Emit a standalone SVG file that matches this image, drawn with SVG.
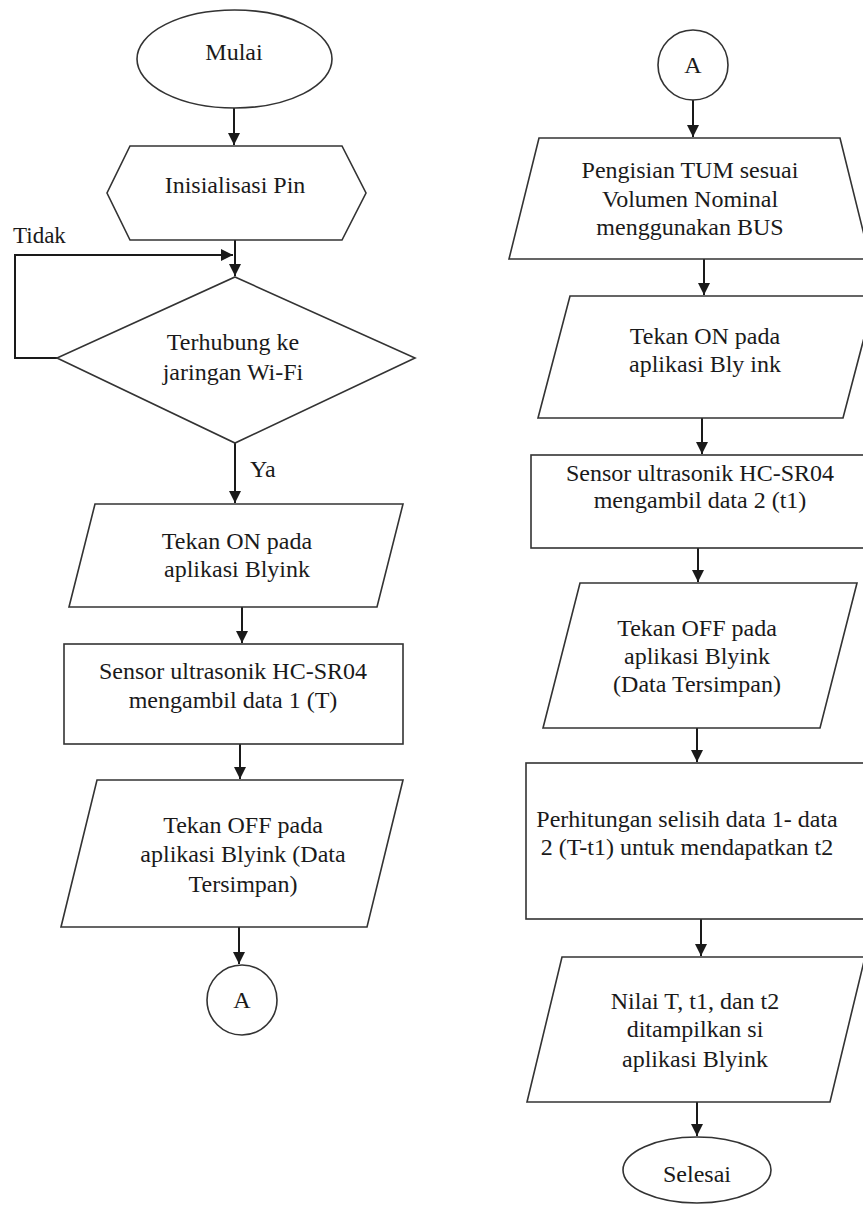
<svg xmlns="http://www.w3.org/2000/svg" width="863" height="1205" viewBox="0 0 863 1205">
<style>
.s{fill:#fff;stroke:#333;stroke-width:1.6}
.c{fill:none;stroke:#1a1a1a;stroke-width:2}
text{font-family:"Liberation Serif","Times New Roman",serif;font-size:24px;fill:#1a1a1a;text-anchor:middle}
</style>
<defs>
<marker id="ah" markerUnits="userSpaceOnUse" markerWidth="14" markerHeight="12" refX="12" refY="6" orient="auto">
<path d="M0,0 L12,6 L0,12 Z" fill="#1a1a1a"/>
</marker>
</defs>
<rect width="863" height="1205" fill="#fff"/>
<g id="connectors">
<path class="c" d="M234,108 V145" marker-end="url(#ah)"/>
<path class="c" d="M235,240 V276" marker-end="url(#ah)"/>
<path class="c" d="M57,358 H15 V255 H233" marker-end="url(#ah)"/>
<path class="c" d="M235,443 V503" marker-end="url(#ah)"/>
<path class="c" d="M242,607 V643" marker-end="url(#ah)"/>
<path class="c" d="M240,744 V779" marker-end="url(#ah)"/>
<path class="c" d="M239,927 V964" marker-end="url(#ah)"/>
<path class="c" d="M693,100 V137" marker-end="url(#ah)"/>
<path class="c" d="M704,259 V295" marker-end="url(#ah)"/>
<path class="c" d="M702,418 V454" marker-end="url(#ah)"/>
<path class="c" d="M698,548 V582" marker-end="url(#ah)"/>
<path class="c" d="M697,728 V762" marker-end="url(#ah)"/>
<path class="c" d="M701,919 V956" marker-end="url(#ah)"/>
<path class="c" d="M697,1102 V1136" marker-end="url(#ah)"/>
<text x="13" y="243" style="text-anchor:start;font-size:23px">Tidak</text>
<text x="250" y="477" style="text-anchor:start">Ya</text>
</g>
<g id="mulai">
<ellipse class="s" cx="234.5" cy="59" rx="97.5" ry="49"/>
<text x="234" y="60">Mulai</text>
</g>
<g id="init">
<polygon class="s" points="130,146 342,146 366,193 342,240 130,240 107,193"/>
<text x="235" y="193">Inisialisasi Pin</text>
</g>
<g id="wifi">
<polygon class="s" points="235,277 415,358 235,443 57,358"/>
<text x="233" y="350">Terhubung ke</text>
<text x="233" y="380">jaringan Wi-Fi</text>
</g>
<g id="on1">
<polygon class="s" points="95,504 403,504 377,607 69,607"/>
<text x="237" y="549">Tekan ON pada</text>
<text x="237" y="577">aplikasi Blyink</text>
</g>
<g id="sensor1">
<rect class="s" x="64" y="644" width="339" height="100"/>
<text x="233" y="679">Sensor ultrasonik HC-SR04</text>
<text x="233" y="708">mengambil data 1 (T)</text>
</g>
<g id="off1">
<polygon class="s" points="97,780 403,780 367,927 61,927"/>
<text x="243" y="833">Tekan OFF pada</text>
<text x="243" y="862">aplikasi Blyink (Data</text>
<text x="243" y="892">Tersimpan)</text>
</g>
<g id="a1">
<circle class="s" cx="242" cy="1000" r="35"/>
<text x="242" y="1008">A</text>
</g>
<g id="a2">
<circle class="s" cx="693" cy="65" r="35"/>
<text x="693" y="73">A</text>
</g>
<g id="pengisian">
<polygon class="s" points="539,138 840,138 870,259 509,259"/>
<text x="690" y="178">Pengisian TUM sesuai</text>
<text x="690" y="207">Volumen Nominal</text>
<text x="690" y="235">menggunakan BUS</text>
</g>
<g id="on2">
<polygon class="s" points="570,296 875,296 843,418 538,418"/>
<text x="705" y="344">Tekan ON pada</text>
<text x="705" y="372">aplikasi Bly ink</text>
</g>
<g id="sensor2">
<rect class="s" x="531" y="455" width="340" height="93"/>
<text x="700" y="481">Sensor ultrasonik HC-SR04</text>
<text x="700" y="508">mengambil data 2 (t1)</text>
</g>
<g id="off2">
<polygon class="s" points="580,583 857,583 820,728 543,728"/>
<text x="697" y="636">Tekan OFF pada</text>
<text x="697" y="664">aplikasi Blyink</text>
<text x="697" y="692">(Data Tersimpan)</text>
</g>
<g id="hitung">
<rect class="s" x="526" y="763" width="345" height="156"/>
<text x="687" y="827">Perhitungan selisih data 1- data</text>
<text x="687" y="855">2 (T-t1) untuk mendapatkan t2</text>
</g>
<g id="nilai">
<polygon class="s" points="562,957 865,957 830,1102 527,1102"/>
<text x="695" y="1009">Nilai T, t1, dan t2</text>
<text x="695" y="1037">ditampilkan si</text>
<text x="695" y="1067">aplikasi Blyink</text>
</g>
<g id="selesai">
<ellipse class="s" cx="697" cy="1170" rx="74" ry="33"/>
<text x="697" y="1182">Selesai</text>
</g>
</svg>
